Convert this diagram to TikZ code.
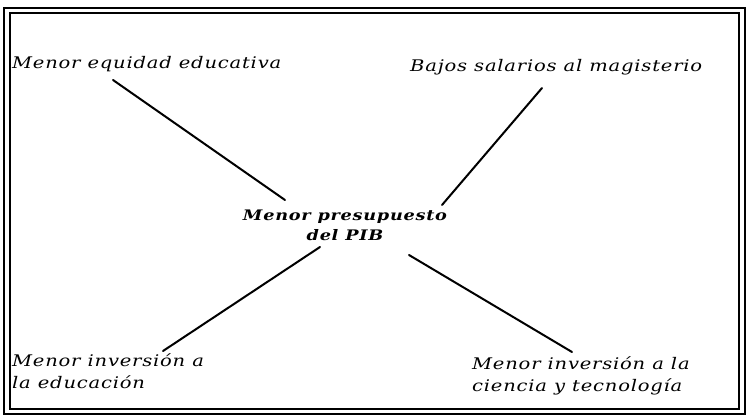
\documentclass[tikz,border=0pt]{standalone}
\usepackage{fontspec}
\setmainfont{DejaVu Serif}[LetterSpace=5, FakeStretch=1.22]
\begin{document}
\begin{tikzpicture}[x=1pt,y=-1pt,
  lbl/.style={font=\fontsize{16}{22}\selectfont\itshape, inner sep=0pt},
  ctr/.style={font=\fontsize{14.5}{20}\selectfont\bfseries\itshape, inner sep=0pt, align=center},
  conn/.style={line width=2pt, line cap=round},
  frame/.style={line width=1.3pt}]
\useasboundingbox (0,0) rectangle (751,417);
\draw[frame] (4,8) rectangle (745,414);
\draw[frame] (10,13) rectangle (739,409);
\node[lbl, anchor=base west] (eq) at (12,69) {Menor equidad educativa};
\node[lbl, anchor=base west] (bs) at (410,72) {Bajos salarios al magisterio};
\node[ctr, anchor=base] (pib) at (345,240) {Menor presupuesto\\del PIB};
\node[lbl, anchor=base west, align=left] (mi) at (12,388) {Menor inversión a\\la educación};
\node[lbl, anchor=base west, align=left] (mc) at (472,391) {Menor inversión a la\\ciencia y tecnología};
\draw[conn] ([shift={(101,11)}]eq.base west) -- ([shift={(-60,-40)}]pib.base);
\draw[conn] ([shift={(132,16)}]bs.base west) -- ([shift={(97,-35)}]pib.base);
\draw[conn] ([shift={(-25,7)}]pib.base) -- ([shift={(151,-37)}]mi.base west);
\draw[conn] ([shift={(64,15)}]pib.base) -- ([shift={(100,-39)}]mc.base west);
\end{tikzpicture}
\end{document}
